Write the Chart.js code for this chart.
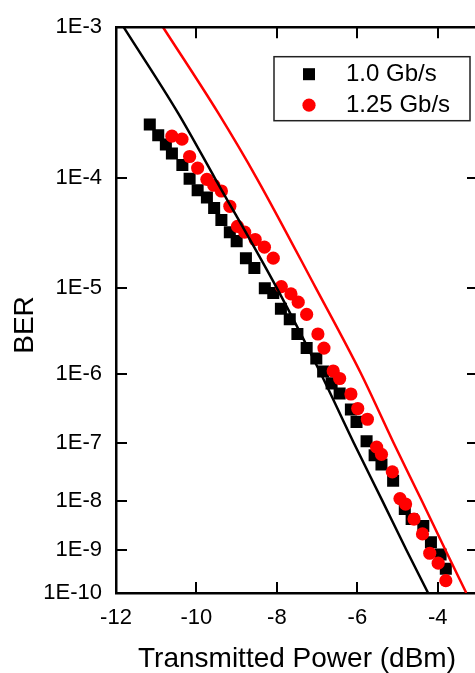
<!DOCTYPE html>
<html>
<head>
<meta charset="utf-8">
<script src="https://cdn.jsdelivr.net/npm/chart.js@4.4.0/dist/chart.umd.min.js"></script>
<style>
    html, body { margin: 0; padding: 0; background: #fff; overflow: hidden; }
    #wrap { width: 490px; height: 673px; }
</style>
</head>
<body>
<div id="wrap"><canvas id="berChart" width="490" height="673"></canvas></div>
<script>
// measured points, transmitted power (dBm) vs BER
const powerSlow = [-11.16, -10.95, -10.76, -10.61, -10.35, -10.17, -9.97, -9.74, -9.56, -9.38, -9.17, -9.00,
    -8.77, -8.56, -8.30, -8.09, -7.90, -7.68, -7.49, -7.26, -7.02, -6.85, -6.64, -6.44, -6.16, -6.02,
    -5.77, -5.57, -5.40, -5.11, -4.82, -4.65, -4.36, -4.17, -3.93, -3.80];
const berSlow = [2.5e-4, 2.1e-4, 1.8e-4, 1.55e-4, 1.27e-4, 9.9e-5, 8.0e-5, 7.0e-5, 5.7e-5, 4.5e-5, 3.5e-5, 2.9e-5,
    2.0e-5, 1.6e-5, 1.0e-5, 8.9e-6, 6.0e-6, 4.6e-6, 3.1e-6, 2.1e-6, 1.56e-6, 1.06e-6, 7.4e-7, 5.4e-7, 3.2e-7, 2.1e-7,
    1.06e-7, 6.3e-8, 4.4e-8, 2.3e-8, 6.9e-9, 4.4e-9, 3.2e-9, 1.46e-9, 8.0e-10, 3.8e-10];

const powerFast = [-10.61, -10.36, -10.17, -9.97, -9.74, -9.57, -9.38, -9.17, -8.98, -8.80, -8.54, -8.31,
    -8.09, -7.89, -7.65, -7.47, -7.26, -6.98, -6.83, -6.60, -6.44, -6.16, -5.99, -5.75, -5.52, -5.40,
    -5.13, -4.94, -4.80, -4.59, -4.38, -4.20, -3.99, -3.80];
const berFast = [2.07e-4, 1.97e-4, 1.47e-4, 1.2e-4, 9.8e-5, 8.8e-5, 7.9e-5, 5.9e-5, 3.95e-5, 3.5e-5, 3.0e-5, 2.55e-5,
    2.0e-5, 1.04e-5, 8.7e-6, 7.1e-6, 5.2e-6, 3.1e-6, 2.1e-6, 1.08e-6, 8.6e-7, 5.3e-7, 3.3e-7, 2.3e-7, 8.5e-8, 6.5e-8,
    3.3e-8, 1.09e-8, 8.6e-9, 4.4e-9, 2.2e-9, 8.5e-10, 5.1e-10, 2.0e-10];

// theory curves
const fitBer = [1e-3, 3e-4, 1e-4, 1e-5, 1e-6, 1e-7, 1e-8, 1e-9, 1e-10];
const fitPowerSlow = [-11.81, -10.46, -9.54, -8.00, -6.91, -6.09, -5.38, -4.78, -4.24];
const fitPowerFast = [-10.83, -9.46, -8.50, -7.03, -5.91, -5.10, -4.40, -3.81, -3.29];

const berTicks = [1e-10, 1e-9, 1e-8, 1e-7, 1e-6, 1e-5, 1e-4, 1e-3];
const berTickLabels = ['1E-10', '1E-9', '1E-8', '1E-7', '1E-6', '1E-5', '1E-4', '1E-3'];

const toPoints = (xs, ys) => xs.map((x, i) => ({ x: x, y: ys[i] }));

// BER axis: spacing follows (-log10 BER)^-0.25
const berT = v => Math.pow(-Math.log10(v), -0.25);

class BerScale extends Chart.Scale {
    determineDataLimits() {
        this.min = this.options.min;
        this.max = this.options.max;
    }
    buildTicks() {
        return berTicks.map(v => ({ value: v }));
    }
    configure() {
        super.configure();
        this._lo = berT(this.min);
        this._hi = berT(this.max);
    }
    getLabelForValue(value) {
        return value.toExponential(2);
    }
    getPixelForValue(value) {
        return this.getPixelForDecimal((berT(value) - this._lo) / (this._hi - this._lo));
    }
    getValueForPixel(pixel) {
        const f = this._lo + this.getDecimalForPixel(pixel) * (this._hi - this._lo);
        return Math.pow(10, -Math.pow(f, -4));
    }
}
BerScale.id = 'ber';
BerScale.defaults = {};
Chart.register(BerScale);

Chart.defaults.font.family = "'Liberation Sans', Arial, sans-serif";
Chart.defaults.color = '#000';

// closed frame, inward ticks, y title and boxed legend
const frameBits = {
    id: 'frameBits',
    afterDraw(chart) {
        const { ctx, chartArea: a, scales } = chart;
        const tl = 11;
        ctx.save();
        ctx.strokeStyle = '#000';
        ctx.lineWidth = 2.5;
        ctx.beginPath();
        ctx.moveTo(a.left, a.top);
        ctx.lineTo(a.right, a.top);
        ctx.lineTo(a.right, a.bottom);
        ctx.stroke();

        ctx.lineWidth = 2;
        ctx.beginPath();
        scales.x.ticks.forEach(t => {
            const px = Math.round(scales.x.getPixelForValue(t.value));
            ctx.moveTo(px, a.bottom); ctx.lineTo(px, a.bottom - tl);
            ctx.moveTo(px, a.top); ctx.lineTo(px, a.top + tl);
        });
        scales.y.ticks.forEach(t => {
            const py = Math.round(scales.y.getPixelForValue(t.value));
            ctx.moveTo(a.left, py); ctx.lineTo(a.left + tl, py);
            ctx.moveTo(a.right, py); ctx.lineTo(a.right - tl, py);
        });
        ctx.stroke();

        // y axis title
        ctx.save();
        ctx.translate(25, 325);
        ctx.rotate(-Math.PI / 2);
        ctx.font = "28px 'Liberation Sans', Arial, sans-serif";
        ctx.fillStyle = '#000';
        ctx.textAlign = 'center';
        ctx.textBaseline = 'middle';
        ctx.fillText('BER', 0, 0);
        ctx.restore();

        // legend
        const items = chart.data.datasets.filter(d => !d.showLine);
        const left = a.right - 204, top = a.top + 29.5;
        ctx.lineWidth = 1.5;
        ctx.strokeStyle = '#222';
        ctx.strokeRect(left, top, 196, 64);
        ctx.font = "24px 'Liberation Sans', Arial, sans-serif";
        ctx.textAlign = 'left';
        ctx.textBaseline = 'middle';
        items.forEach((d, i) => {
            const y = top + 17.5 + i * 31;
            ctx.fillStyle = d.pointBackgroundColor;
            Chart.helpers.drawPoint(ctx, { pointStyle: d.pointStyle, radius: d.pointRadius, borderWidth: 0, rotation: 0 }, left + 35, y);
            ctx.fillStyle = '#000';
            ctx.fillText(d.label, left + 72, y);
        });
        ctx.restore();
    }
};

new Chart(document.getElementById('berChart'), {
    type: 'scatter',
    data: {
        datasets: [
            {
                label: 'fit 1.0 Gb/s',
                data: toPoints(fitPowerSlow, fitBer),
                showLine: true,
                borderColor: '#000',
                borderWidth: 2.5,
                pointRadius: 0,
                cubicInterpolationMode: 'monotone',
                order: 0
            },
            {
                label: 'fit 1.25 Gb/s',
                data: toPoints(fitPowerFast, fitBer),
                showLine: true,
                borderColor: '#ff0000',
                borderWidth: 2.5,
                pointRadius: 0,
                cubicInterpolationMode: 'monotone',
                order: 1
            },
            {
                label: '1.0 Gb/s',
                data: toPoints(powerSlow, berSlow),
                showLine: false,
                pointStyle: 'rect',
                pointRadius: 8.5,
                pointBorderWidth: 0,
                pointBackgroundColor: '#000',
                order: 3
            },
            {
                label: '1.25 Gb/s',
                data: toPoints(powerFast, berFast),
                showLine: false,
                pointStyle: 'circle',
                pointRadius: 6.6,
                pointBorderWidth: 0,
                pointBackgroundColor: '#ff0000',
                order: 2
            }
        ]
    },
    options: {
        responsive: false,
        animation: false,
        layout: { padding: { top: 23, right: 12, left: 0, bottom: 0 } },
        plugins: {
            legend: { display: false },
            tooltip: { enabled: false }
        },
        scales: {
            x: {
                type: 'linear',
                min: -12,
                max: -3,
                afterFit: s => { s.height = 80; },
                border: { display: true, color: '#000', width: 2.5 },
                grid: { drawOnChartArea: false, drawTicks: false },
                ticks: { stepSize: 2, includeBounds: false, padding: 12, autoSkip: false, maxRotation: 0, font: { size: 22 } },
                title: { display: true, text: 'Transmitted Power (dBm)', font: { size: 28, lineHeight: 1 }, padding: 0 }
            },
            y: {
                type: 'ber',
                min: 1e-10,
                max: 1e-3,
                afterFit: s => { s.width = 116; },
                border: { display: true, color: '#000', width: 2.5 },
                grid: { drawOnChartArea: false, drawTicks: false },
                ticks: {
                    autoSkip: false,
                    padding: 14,
                    font: { size: 22 },
                    callback: (v, i) => berTickLabels[i]
                }
            }
        }
    },
    plugins: [frameBits]
});
</script>
</body>
</html>
